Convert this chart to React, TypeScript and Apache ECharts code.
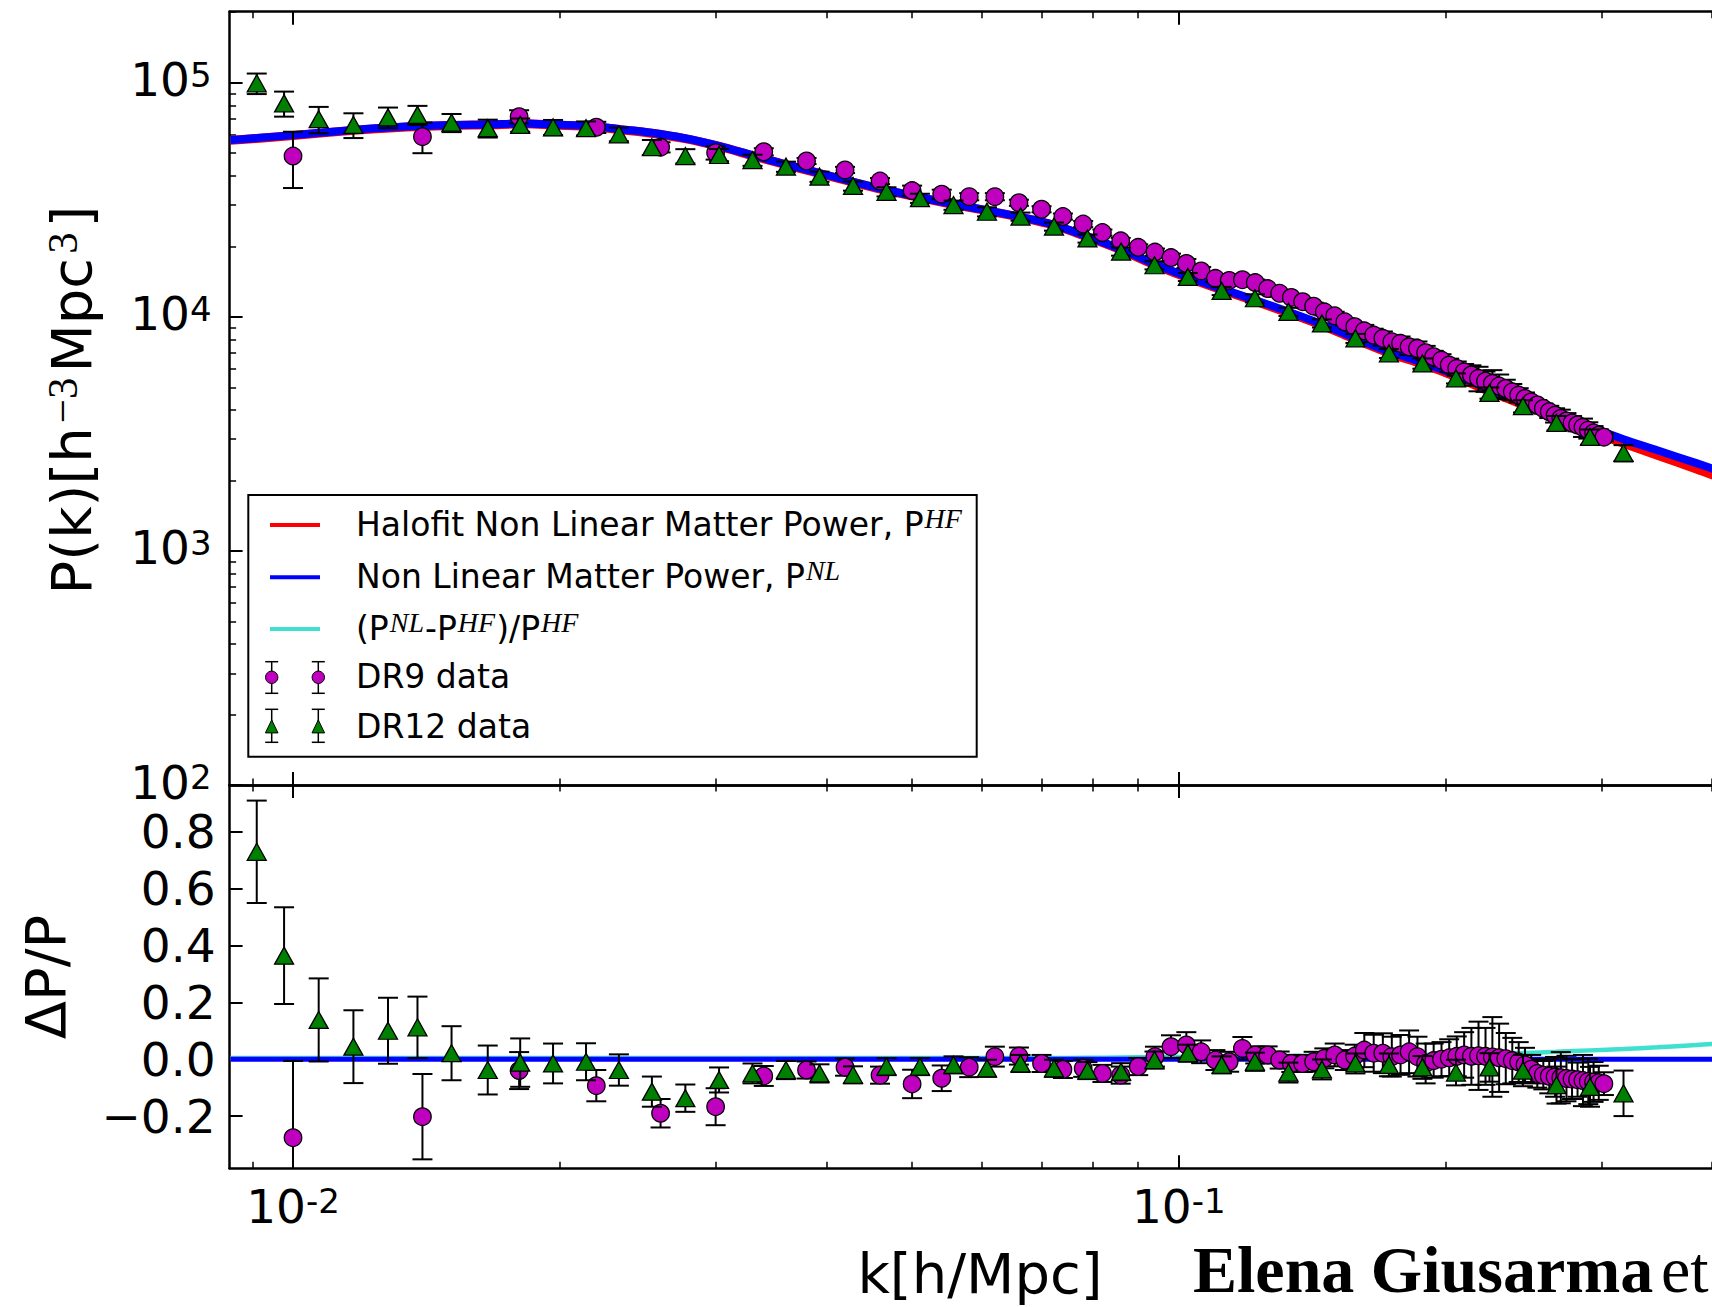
import React, { useEffect, useRef } from "react";
import * as echarts from "echarts";

// ---------------- DATA ----------------
// DR9 (circles): k [h/Mpc], P(k), Delta P / P, fractional error
const k9 = [
  0.010, 0.014, 0.018, 0.022, 0.026, 0.030, 0.034, 0.038, 0.042, 0.046,
  0.050, 0.054, 0.058, 0.062, 0.066, 0.070, 0.074, 0.078, 0.082, 0.086,
  0.090, 0.094, 0.098, 0.102, 0.106, 0.110, 0.114, 0.118, 0.122, 0.126,
  0.130, 0.134, 0.138, 0.142, 0.146, 0.150, 0.154, 0.158, 0.162, 0.166,
  0.170, 0.174, 0.178, 0.182, 0.186, 0.190, 0.194, 0.198, 0.202, 0.206,
  0.210, 0.214, 0.218, 0.222, 0.226, 0.230, 0.234, 0.238, 0.242, 0.246,
  0.250, 0.254, 0.258, 0.262, 0.266, 0.270, 0.274, 0.278, 0.282, 0.286,
  0.290, 0.294, 0.298, 0.302,
];
const p9 = [
  48600, 58800, 71600, 64500, 53000, 50200, 50700, 46300, 42400, 38000,
  34600, 33400, 32600, 32600, 30700, 28800, 26800, 24900, 22900, 21100,
  19800, 18900, 17900, 16900, 15700, 14600, 14300, 14400, 14000, 13200,
  12600, 12100, 11600, 11100, 10500, 10100, 9520, 9070, 8710, 8350,
  8090, 7820, 7700, 7440, 7330, 7020, 6750, 6530, 6220, 6020,
  5820, 5640, 5460, 5310, 5190, 5060, 4940, 4780, 4630, 4480,
  4330, 4200, 4060, 3930, 3800, 3680, 3590, 3520, 3450, 3370,
  3280, 3190, 3120, 3060,
];
const d9 = [
  -0.276, -0.202, -0.040, -0.093, -0.190, -0.167, -0.059, -0.038, -0.028, -0.056,
  -0.087, -0.067, -0.028, 0.009, 0.011, -0.015, -0.036, -0.032, -0.050, -0.056,
  -0.026, 0.009, 0.044, 0.050, 0.026, -0.003, -0.009, 0.038, 0.015, 0.015,
  -0.003, -0.015, -0.015, -0.009, 0.003, 0.015, -0.003, 0.011, 0.032, 0.021,
  0.021, 0.009, 0.015, 0.026, 0.009, -0.015, -0.005, 0.000, 0.005, 0.010,
  0.015, 0.010, 0.012, 0.010, 0.008, 0.005, 0.002, -0.005, -0.010, -0.020,
  -0.035, -0.050, -0.056, -0.060, -0.062, -0.065, -0.068, -0.070, -0.072, -0.075,
  -0.078, -0.080, -0.083, -0.086,
];
const e9 = [
  0.27, 0.15, 0.065, 0.055, 0.05, 0.065, 0.035, 0.03, 0.03, 0.03,
  0.05, 0.045, 0.035, 0.035, 0.03, 0.03, 0.03, 0.03, 0.03, 0.03,
  0.03, 0.035, 0.04, 0.045, 0.04, 0.035, 0.035, 0.04, 0.03, 0.03,
  0.03, 0.03, 0.03, 0.035, 0.035, 0.04, 0.035, 0.04, 0.06, 0.065,
  0.07, 0.07, 0.07, 0.075, 0.07, 0.07, 0.06, 0.06, 0.065, 0.07,
  0.08, 0.1, 0.12, 0.1, 0.14, 0.12, 0.09, 0.08, 0.07, 0.06,
  0.05, 0.05, 0.05, 0.06, 0.07, 0.09, 0.08, 0.07, 0.06, 0.09,
  0.08, 0.07, 0.06, 0.04,
];

// DR12 (triangles): k, P(k), absolute error on P, Delta P / P, error on Delta P / P
const k12 = [
  0.0091, 0.00977, 0.01069, 0.0117, 0.0128, 0.01382, 0.0151, 0.01659, 0.01805, 0.01966,
  0.02142, 0.02333, 0.02542, 0.02773, 0.03027, 0.03302, 0.03602, 0.0393, 0.04288, 0.04678,
  0.05103, 0.05568, 0.06074, 0.06628, 0.0723, 0.07888, 0.08608, 0.09389, 0.1024, 0.1118,
  0.1219, 0.133, 0.1451, 0.1583, 0.1727, 0.1884, 0.2056, 0.2243, 0.2447, 0.267,
  0.2913, 0.3178,
];
const p12 = [
  99400, 81600, 69800, 66000, 71100, 72800, 67500, 63900, 66000, 64500,
  63900, 60200, 53000, 48600, 49100, 46700, 43800, 39700, 36200, 34200,
  32100, 30000, 28100, 26800, 24300, 21600, 19000, 16600, 14800, 12900,
  12000, 10500, 9370, 8090, 6980, 6320, 5460, 4730, 4150, 3520,
  3070, 2620,
];
const err12 = [
  10000, 10000, 9000, 8000, 7200, 6800, 6000, 5600, 4300, 4800,
  4400, 4000, 3900, 3400, 2950, 2570, 2190, 1990, 1630, 1540,
  1440, 1350, 1260, 1070, 970, 860, 760, 660, 590, 520,
  480, 420, 375, 360, 310, 320, 270, 260, 250, 250,
  230, 210,
];
const d12 = [
  0.729, 0.364, 0.138, 0.044, 0.100, 0.112, 0.021, -0.038, -0.012, -0.015,
  -0.009, -0.038, -0.114, -0.137, -0.073, -0.050, -0.038, -0.050, -0.055, -0.026,
  -0.026, -0.020, -0.032, -0.015, -0.032, -0.040, -0.044, -0.003, 0.021, -0.020,
  -0.009, -0.047, -0.036, -0.015, -0.020, -0.029, -0.047, -0.029, -0.040, -0.091,
  -0.097, -0.120,
];
const e12 = [
  0.18, 0.17, 0.146, 0.128, 0.116, 0.108, 0.095, 0.086, 0.085, 0.07,
  0.065, 0.055, 0.053, 0.048, 0.044, 0.035, 0.032, 0.032, 0.03, 0.03,
  0.03, 0.03, 0.03, 0.03, 0.03, 0.03, 0.03, 0.03, 0.03, 0.03,
  0.032, 0.035, 0.035, 0.035, 0.04, 0.04, 0.045, 0.05, 0.055, 0.065,
  0.07, 0.08,
];

// Model curves
const modelK = [
  0.0085, 0.0091, 0.01, 0.0117, 0.013, 0.0151, 0.0166, 0.0183, 0.0197, 0.0217,
  0.0233, 0.0254, 0.0277, 0.0303, 0.033, 0.036, 0.0393, 0.0429, 0.0468, 0.051,
  0.0557, 0.0607, 0.0663, 0.0723, 0.0789, 0.0861, 0.0939, 0.1024, 0.1118, 0.1219,
  0.133, 0.1451, 0.1583, 0.1727, 0.1884, 0.2056, 0.2243, 0.2447, 0.267, 0.2913,
  0.3178, 0.347, 0.384, 0.41,
];
const pNL = [
  56900, 58000, 59700, 62800, 64500, 65900, 66300, 67000, 66200, 65300,
  63400, 61100, 57900, 53600, 49000, 44800, 41100, 37700, 34800, 32400,
  30300, 28500, 26700, 24700, 22000, 19400, 16800, 14800, 13160, 11800,
  10500, 9300, 8100, 7100, 6380, 5640, 4900, 4330, 3830, 3380,
  3000, 2690, 2370, 2180,
];
const pHF = [
  56700, 57800, 59500, 62550, 64240, 65640, 66040, 66730, 65940, 65040,
  63150, 60860, 57670, 53390, 48800, 44620, 40940, 37550, 34660, 32270,
  30180, 28390, 26590, 24600, 21890, 19280, 16680, 14680, 13040, 11680,
  10390, 9190, 8000, 7000, 6280, 5540, 4800, 4220, 3720, 3260,
  2880, 2560, 2240, 2045,
];
const ratio = [
  0.004, 0.004, 0.004, 0.004, 0.004, 0.004, 0.004, 0.004, 0.004, 0.004,
  0.004, 0.004, 0.004, 0.004, 0.004, 0.004, 0.004, 0.004, 0.004, 0.004,
  0.004, 0.004, 0.004, 0.004, 0.005, 0.006, 0.007, 0.008, 0.009, 0.010,
  0.011, 0.012, 0.013, 0.014, 0.015, 0.016, 0.019, 0.022, 0.026, 0.031,
  0.036, 0.042, 0.050, 0.056,
];
const zeroK = [0.0085, 0.41];
const zeroV = [0, 0];

// Ticks
const xMajor = [0.01, 0.1];
const xMinor = [0.009, 0.02, 0.03, 0.04, 0.05, 0.06, 0.07, 0.08, 0.09, 0.2, 0.3, 0.4];
const yMajor = [100, 1000, 10000, 100000];
const yMinor = [
  200, 300, 400, 500, 600, 700, 800, 900,
  2000, 3000, 4000, 5000, 6000, 7000, 8000, 9000,
  20000, 30000, 40000, 50000, 60000, 70000, 80000, 90000, 200000,
];
const dMajor = [-0.2, 0.0, 0.2, 0.4, 0.6, 0.8];

const X_MIN = 0.00848;
const X_MAX = 0.4;
const Y_MIN = 100;
const Y_MAX = 201000;
const D_MIN = -0.3835;
const D_MAX = 0.9638;

// ---------------- STYLE ----------------
const SANS = "DejaVu Sans";
const SERIF = "Liberation Serif";
const MAGENTA = "#bf00bf";
const GREEN = "#008000";

const tickRich = {
  b: { fontSize: 47, lineHeight: 50, fontFamily: SANS, color: "#000", padding: [0, 0, 6, 0] },
  s: { fontSize: 34, lineHeight: 14, verticalAlign: "top", fontFamily: SANS, color: "#000" },
};

function xAxisDef(gridIndex: number, position: string, values: number[], len: number, width: number, showLine: boolean, label?: any) {
  return {
    type: "log",
    logBase: 10,
    gridIndex,
    position,
    min: X_MIN,
    max: X_MAX,
    axisLine: { show: showLine, onZero: false, lineStyle: { color: "#000", width: 2.5 } },
    axisTick: { show: true, inside: true, length: len, lineStyle: { color: "#000", width }, customValues: values },
    axisLabel: label ? { ...label, customValues: values } : { show: false },
    splitLine: { show: false },
    minorTick: { show: false },
    minorSplitLine: { show: false },
  };
}

function errorBar(capHalf: number) {
  return (params: any, api: any) => {
    const k = api.value(0);
    const lo = api.value(1);
    const hi = api.value(2);
    const a = api.coord([k, hi]);
    const b = api.coord([k, lo]);
    const cs = params.coordSys;
    const top = cs.y;
    const bottom = cs.y + cs.height;
    const x = a[0];
    const style = { stroke: "#000", lineWidth: 2, fill: null };
    const children: any[] = [
      { type: "line", shape: { x1: x, y1: Math.max(a[1], top), x2: x, y2: Math.min(b[1], bottom) }, style },
    ];
    if (a[1] >= top) children.push({ type: "line", shape: { x1: x - capHalf, y1: a[1], x2: x + capHalf, y2: a[1] }, style });
    if (b[1] <= bottom) children.push({ type: "line", shape: { x1: x - capHalf, y1: b[1], x2: x + capHalf, y2: b[1] }, style });
    return { type: "group", children };
  };
}

function buildOption() {
  const legX = 248.3, legY = 495, legW = 728.4, legH = 261.7;
  const rowY = [525, 577.3, 629, 677.3, 726.7];
  const legRich = {
    b: { fontSize: 33, lineHeight: 40, fontFamily: SANS, color: "#000" },
    s: { fontSize: 28, lineHeight: 19, verticalAlign: "top", fontFamily: SERIF, fontStyle: "italic", color: "#000", padding: [0, 1, 0, 1] },
  };
  const legTexts = [
    "{b|Halofit Non Linear Matter Power, P}{s|HF}",
    "{b|Non Linear Matter Power, P}{s|NL}",
    "{b|(P}{s|NL}{b|-P}{s|HF}{b|)/P}{s|HF}",
    "{b|DR9 data}",
    "{b|DR12 data}",
  ];
  const lineColors = ["#ff0000", "#0000ff", "#40e0d0"];
  const elements: any[] = [
    { type: "rect", z: 100, shape: { x: legX, y: legY, width: legW, height: legH }, style: { fill: "#fff", stroke: "#000", lineWidth: 2 } },
  ];
  lineColors.forEach((c, i) => {
    elements.push({ type: "line", z: 101, shape: { x1: 270, y1: rowY[i], x2: 320, y2: rowY[i] }, style: { stroke: c, lineWidth: 4 } });
  });
  [271.7, 318.3].forEach((cx) => {
    const s = { stroke: "#000", lineWidth: 1.5 };
    // DR9
    elements.push({ type: "line", z: 101, shape: { x1: cx, y1: 661.7, x2: cx, y2: 693.3 }, style: s });
    elements.push({ type: "line", z: 101, shape: { x1: cx - 6.5, y1: 661.7, x2: cx + 6.5, y2: 661.7 }, style: s });
    elements.push({ type: "line", z: 101, shape: { x1: cx - 6.5, y1: 693.3, x2: cx + 6.5, y2: 693.3 }, style: s });
    elements.push({ type: "circle", z: 102, shape: { cx, cy: rowY[3], r: 6.2 }, style: { fill: MAGENTA, stroke: "#000", lineWidth: 1 } });
    // DR12
    elements.push({ type: "line", z: 101, shape: { x1: cx, y1: 709.3, x2: cx, y2: 742.3 }, style: s });
    elements.push({ type: "line", z: 101, shape: { x1: cx - 6.5, y1: 709.3, x2: cx + 6.5, y2: 709.3 }, style: s });
    elements.push({ type: "line", z: 101, shape: { x1: cx - 6.5, y1: 742.3, x2: cx + 6.5, y2: 742.3 }, style: s });
    elements.push({
      type: "polygon", z: 102,
      shape: { points: [[cx, rowY[4] - 6.8], [cx - 6.3, rowY[4] + 6.2], [cx + 6.3, rowY[4] + 6.2]] },
      style: { fill: GREEN, stroke: "#000", lineWidth: 1 },
    });
  });
  legTexts.forEach((t, i) => {
    elements.push({
      type: "text", z: 103, x: 356, y: rowY[i] - 0.5,
      style: { text: t, rich: legRich, fill: "#000", align: "left", verticalAlign: "middle", textAlign: "left", textVerticalAlign: "middle", fontSize: 33, fontFamily: SANS },
    });
  });

  // Axis titles
  elements.push({
    type: "text", x: 71, y: 400, rotation: Math.PI / 2,
    style: {
      text: "{a|P(k)[h}{s|\u22123}{a|Mpc}{s|3}{a|]}",
      rich: {
        a: { fontSize: 56, lineHeight: 60, fontFamily: SANS, color: "#000" },
        s: { fontSize: 43, lineHeight: 28, verticalAlign: "top", fontFamily: SERIF, color: "#000", padding: [0, 5, 0, 4] },
      },
      align: "center", verticalAlign: "middle", textAlign: "center", textVerticalAlign: "middle", fill: "#000", fontSize: 56, fontFamily: SANS,
    },
  });
  elements.push({
    type: "text", x: 45, y: 977, rotation: Math.PI / 2,
    style: { text: "\u0394P/P", fontSize: 56, lineHeight: 56, fontFamily: SANS, fill: "#000", align: "center", verticalAlign: "middle", textAlign: "center", textVerticalAlign: "middle" },
  });
  elements.push({
    type: "text", x: 980, y: 1273.5,
    style: { text: "k[h/Mpc]", fontSize: 56, lineHeight: 56, fontFamily: SANS, fill: "#000", align: "center", verticalAlign: "middle", textAlign: "center", textVerticalAlign: "middle" },
  });
  // Page header text below the figure
  elements.push({
    type: "text", x: 1193, y: 1269.5,
    style: { text: "Elena Giusarma", fontSize: 66, lineHeight: 62, fontFamily: SERIF, fontWeight: "bold", fill: "#000", align: "left", verticalAlign: "middle", textAlign: "left", textVerticalAlign: "middle" },
  });
  elements.push({
    type: "text", x: 1661, y: 1269.5,
    style: { text: "et", fontSize: 66, lineHeight: 62, fontFamily: SERIF, fill: "#000", align: "left", verticalAlign: "middle", textAlign: "left", textVerticalAlign: "middle" },
  });

  const topLabel = {
    show: true, margin: 18, fontFamily: SANS, color: "#000", rich: tickRich,
    formatter: (v: number) => `{b|10}{s|${Math.round(Math.log10(v))}}`,
  };
  const botXLabel = {
    show: true, margin: 16, fontFamily: SANS, color: "#000", rich: tickRich,
    formatter: (v: number) => `{b|10}{s|-${Math.round(-Math.log10(v))}}`,
  };

  return {
    animation: false,
    backgroundColor: "#ffffff",
    grid: [
      { left: 229.6, top: 11.7, width: 1498.6, height: 773.3, containLabel: false },
      { left: 229.6, top: 785, width: 1498.6, height: 383.3, containLabel: false },
    ],
    xAxis: [
      xAxisDef(0, "bottom", xMajor, 13, 2, true),
      xAxisDef(0, "bottom", xMinor, 6.5, 1.5, false),
      xAxisDef(0, "top", xMajor, 13, 2, true),
      xAxisDef(0, "top", xMinor, 6.5, 1.5, false),
      xAxisDef(1, "bottom", xMajor, 13, 2, true, botXLabel),
      xAxisDef(1, "bottom", xMinor, 6.5, 1.5, false),
      xAxisDef(1, "top", xMajor, 13, 2, true),
      xAxisDef(1, "top", xMinor, 6.5, 1.5, false),
    ],
    yAxis: [
      {
        type: "log", logBase: 10, gridIndex: 0, position: "left", min: Y_MIN, max: Y_MAX,
        axisLine: { show: true, onZero: false, lineStyle: { color: "#000", width: 2.5 } },
        axisTick: { show: true, inside: true, length: 13, lineStyle: { color: "#000", width: 2 }, customValues: yMajor },
        axisLabel: { ...topLabel, customValues: yMajor },
        splitLine: { show: false },
      },
      {
        type: "log", logBase: 10, gridIndex: 0, position: "left", min: Y_MIN, max: Y_MAX,
        axisLine: { show: false, onZero: false },
        axisTick: { show: true, inside: true, length: 6.5, lineStyle: { color: "#000", width: 1.5 }, customValues: yMinor },
        axisLabel: { show: false },
        splitLine: { show: false },
      },
      {
        type: "value", gridIndex: 1, position: "left", min: D_MIN, max: D_MAX,
        axisLine: { show: true, onZero: false, lineStyle: { color: "#000", width: 2.5 } },
        axisTick: { show: true, inside: true, length: 13, lineStyle: { color: "#000", width: 2 }, customValues: dMajor },
        axisLabel: {
          show: true, margin: 14, fontSize: 47, lineHeight: 40, fontFamily: SANS, color: "#000", customValues: dMajor,
          formatter: (v: number) => (v < -1e-9 ? "\u2212" : "") + Math.abs(v).toFixed(1),
        },
        splitLine: { show: false },
      },
    ],
    series: [
      // top panel
      {
        type: "line", name: "Halofit", xAxisIndex: 0, yAxisIndex: 0, z: 2,
        data: modelK.map((k, i) => [k, pHF[i]]), showSymbol: false, symbol: "none", smooth: 0.3,
        lineStyle: { color: "#ff0000", width: 9 },
      },
      {
        type: "line", name: "NL", xAxisIndex: 0, yAxisIndex: 0, z: 3,
        data: modelK.map((k, i) => [k, pNL[i]]), showSymbol: false, symbol: "none", smooth: 0.3,
        lineStyle: { color: "#0000ff", width: 8 },
      },
      {
        type: "custom", name: "DR9 err", xAxisIndex: 0, yAxisIndex: 0, z: 4,
        renderItem: errorBar(10), encode: { x: 0, y: [1, 2] },
        data: k9.map((k, i) => [k, p9[i] * (1 - e9[i]), p9[i] * (1 + e9[i])]),
      },
      {
        type: "scatter", name: "DR9 data", xAxisIndex: 0, yAxisIndex: 0, z: 5,
        data: k9.map((k, i) => [k, p9[i]]), symbol: "circle", symbolSize: 17.5,
        itemStyle: { color: MAGENTA, borderColor: "#000", borderWidth: 1.3, opacity: 1 },
      },
      {
        type: "custom", name: "DR12 err", xAxisIndex: 0, yAxisIndex: 0, z: 6,
        renderItem: errorBar(10), encode: { x: 0, y: [1, 2] },
        data: k12.map((k, i) => [k, p12[i] - err12[i], p12[i] + err12[i]]),
      },
      {
        type: "scatter", name: "DR12 data", xAxisIndex: 0, yAxisIndex: 0, z: 7,
        data: k12.map((k, i) => [k, p12[i]]), symbol: "triangle", symbolSize: [19, 17],
        itemStyle: { color: GREEN, borderColor: "#000", borderWidth: 1.3, opacity: 1 },
      },
      // bottom panel
      {
        type: "line", name: "ratio", xAxisIndex: 4, yAxisIndex: 2, z: 2,
        data: modelK.map((k, i) => [k, ratio[i]]), showSymbol: false, symbol: "none", smooth: 0.3,
        lineStyle: { color: "#40e0d0", width: 4.5 },
      },
      {
        type: "line", name: "zero", xAxisIndex: 4, yAxisIndex: 2, z: 3,
        data: zeroK.map((k, i) => [k, zeroV[i]]), showSymbol: false, symbol: "none",
        lineStyle: { color: "#0000ff", width: 5 },
      },
      {
        type: "custom", name: "DR9 dev err", xAxisIndex: 4, yAxisIndex: 2, z: 4,
        renderItem: errorBar(10), encode: { x: 0, y: [1, 2] },
        data: k9.map((k, i) => [k, d9[i] - e9[i], d9[i] + e9[i]]),
      },
      {
        type: "scatter", name: "DR9 dev", xAxisIndex: 4, yAxisIndex: 2, z: 5,
        data: k9.map((k, i) => [k, d9[i]]), symbol: "circle", symbolSize: 17.5,
        itemStyle: { color: MAGENTA, borderColor: "#000", borderWidth: 1.3, opacity: 1 },
      },
      {
        type: "custom", name: "DR12 dev err", xAxisIndex: 4, yAxisIndex: 2, z: 6,
        renderItem: errorBar(10), encode: { x: 0, y: [1, 2] },
        data: k12.map((k, i) => [k, d12[i] - e12[i], d12[i] + e12[i]]),
      },
      {
        type: "scatter", name: "DR12 dev", xAxisIndex: 4, yAxisIndex: 2, z: 7,
        data: k12.map((k, i) => [k, d12[i]]), symbol: "triangle", symbolSize: [19, 17],
        itemStyle: { color: GREEN, borderColor: "#000", borderWidth: 1.3, opacity: 1 },
      },
    ],
    graphic: { elements },
  };
}

export default function App() {
  const ref = useRef<HTMLDivElement>(null);
  useEffect(() => {
    if (!ref.current) return;
    const chart = echarts.init(ref.current, null, { renderer: "svg" });
    chart.setOption(buildOption() as any);
    return () => chart.dispose();
  }, []);
  return (
    <div
      ref={ref}
      style={{ position: "absolute", left: 0, top: 0, width: 1712, height: 1307, background: "#fff" }}
    />
  );
}
